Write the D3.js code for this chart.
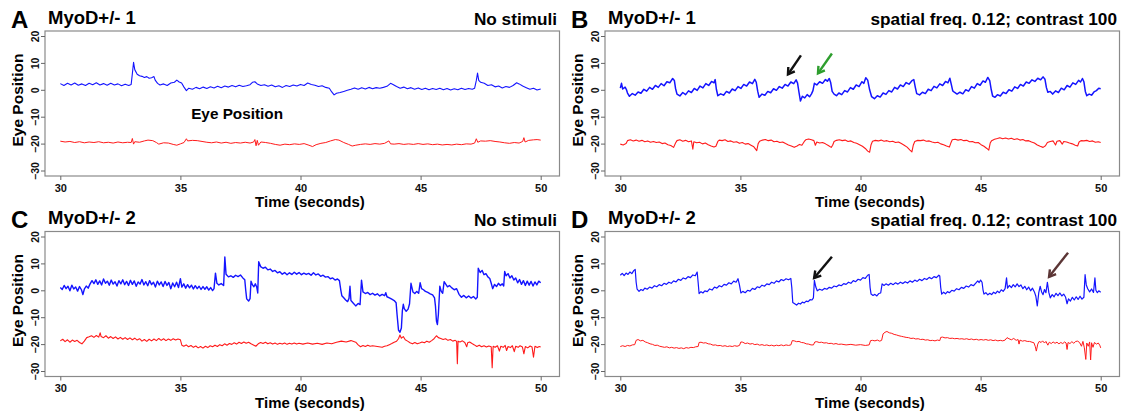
<!DOCTYPE html>
<html>
<head>
<meta charset="utf-8">
<script src="https://cdn.jsdelivr.net/npm/d3@7"></script>
<style>
  html, body { margin: 0; padding: 0; background: #fff; }
  text { font-family: Arial, "Liberation Sans", sans-serif; font-weight: bold; }
</style>
</head>
<body>
<script>
// tick labels
const xTicks = [30, 35, 40, 45, 50];
const yTicks = [20, 10, 0, -10, -20, -30];

const letters = ['A', 'B', 'C', 'D'];
const subjects = ['MyoD+/- 1', 'MyoD+/- 1', 'MyoD+/- 2', 'MyoD+/- 2'];
const conditions = ['No stimuli', 'spatial freq. 0.12; contrast 100', 'No stimuli', 'spatial freq. 0.12; contrast 100'];

// eye traces [time s, position]
const blueA = [[30,2.3],[30.15,1.6],[30.3,2.4],[30.45,1.8],[30.6,2.5],[30.75,1.7],[30.9,2.2],[31.05,1.6],[31.2,2.4],[31.35,1.9],[31.5,2.6],[31.65,1.8],[31.8,2.3],[31.95,1.7],[32.1,2.4],[32.25,1.8],[32.4,2.2],[32.55,1.5],[32.7,2.1],[32.85,1.6],[32.95,2.0],[33.0,6.0],[33.05,10.2],[33.1,7.5],[33.2,5.8],[33.3,5.2],[33.4,5.0],[33.5,4.6],[33.6,4.9],[33.7,4.3],[33.8,4.5],[33.9,4.9],[33.95,3.6],[34.05,2.4],[34.15,1.8],[34.3,2.2],[34.45,1.6],[34.6,2.5],[34.75,2.8],[34.85,3.6],[34.95,2.9],[35.05,2.5],[35.15,1.0],[35.25,-0.3],[35.35,0.6],[35.5,0.2],[35.65,0.9],[35.8,0.4],[35.95,1.0],[36.1,0.5],[36.25,1.1],[36.4,0.7],[36.55,1.3],[36.7,0.8],[36.85,1.4],[37.0,1.0],[37.15,1.6],[37.3,1.1],[37.45,1.7],[37.6,1.2],[37.75,1.5],[37.9,1.9],[38.0,2.8],[38.1,3.0],[38.2,2.2],[38.35,1.6],[38.5,1.9],[38.65,1.3],[38.8,1.8],[38.95,1.1],[39.1,1.5],[39.25,0.9],[39.4,1.6],[39.55,1.2],[39.7,1.8],[39.85,1.4],[40.0,2.0],[40.15,1.6],[40.3,2.5],[40.45,2.0],[40.6,1.7],[40.75,1.2],[40.9,1.5],[41.05,0.9],[41.2,0.6],[41.3,-0.8],[41.4,-1.9],[41.5,-1.3],[41.65,-1.0],[41.8,-0.6],[41.95,-0.2],[42.1,0.2],[42.25,0.7],[42.4,0.2],[42.55,0.8],[42.7,0.3],[42.85,0.9],[43.0,0.4],[43.15,0.8],[43.3,0.6],[43.45,0.9],[43.6,1.3],[43.75,2.4],[43.85,2.0],[44.0,1.2],[44.15,0.6],[44.3,1.0],[44.45,0.4],[44.6,0.8],[44.75,0.2],[44.9,0.7],[45.05,0.1],[45.2,0.6],[45.35,0.0],[45.5,0.5],[45.65,0.1],[45.8,0.6],[45.95,0.0],[46.1,0.5],[46.25,-0.1],[46.4,0.4],[46.55,0.0],[46.7,0.6],[46.85,0.1],[47.0,0.5],[47.15,0.2],[47.25,0.6],[47.32,3.5],[47.37,6.2],[47.42,3.5],[47.5,2.8],[47.65,2.4],[47.8,1.6],[47.95,1.9],[48.1,1.1],[48.25,1.4],[48.4,0.7],[48.55,1.2],[48.7,0.9],[48.85,1.6],[49.0,2.6],[49.1,2.2],[49.25,1.4],[49.4,0.8],[49.55,0.2],[49.7,0.6],[49.85,-0.1],[50.0,0.3]];
const redA = [[30,-19.1],[30.2,-19.4],[30.4,-19.2],[30.6,-19.6],[30.8,-19.3],[31.0,-19.7],[31.2,-19.4],[31.4,-19.6],[31.6,-19.3],[31.8,-19.7],[32.0,-19.5],[32.2,-19.8],[32.4,-19.4],[32.6,-19.7],[32.8,-19.5],[32.95,-19.6],[33.0,-18.1],[33.05,-20.2],[33.1,-19.3],[33.3,-19.5],[33.5,-19.0],[33.65,-18.7],[33.85,-18.9],[34.0,-19.6],[34.1,-20.2],[34.3,-19.7],[34.5,-19.8],[34.7,-20.3],[34.85,-20.6],[35.0,-20.1],[35.15,-19.6],[35.25,-18.2],[35.3,-19.0],[35.5,-18.8],[35.7,-18.9],[35.9,-19.2],[36.1,-19.5],[36.3,-19.7],[36.5,-19.4],[36.7,-19.8],[36.9,-19.5],[37.1,-19.9],[37.3,-19.6],[37.5,-19.8],[37.7,-19.5],[37.9,-19.8],[38.05,-19.4],[38.1,-18.5],[38.15,-20.8],[38.2,-18.8],[38.25,-20.6],[38.35,-19.4],[38.55,-19.6],[38.75,-19.9],[38.95,-20.3],[39.15,-20.6],[39.35,-20.2],[39.55,-20.4],[39.75,-20.1],[39.95,-20.3],[40.15,-20.0],[40.35,-20.6],[40.5,-21.1],[40.65,-20.4],[40.85,-19.9],[41.05,-19.6],[41.25,-19.0],[41.45,-18.5],[41.6,-18.7],[41.8,-19.6],[42.0,-20.3],[42.15,-20.9],[42.3,-20.6],[42.5,-20.3],[42.7,-20.1],[42.9,-20.3],[43.1,-20.0],[43.3,-20.2],[43.5,-19.9],[43.68,-19.0],[43.75,-20.1],[43.9,-20.2],[44.1,-20.0],[44.3,-20.3],[44.5,-20.1],[44.7,-20.3],[44.9,-20.0],[45.1,-20.3],[45.3,-20.1],[45.5,-20.4],[45.7,-20.2],[45.9,-20.5],[46.1,-20.3],[46.3,-20.5],[46.5,-20.2],[46.7,-20.4],[46.9,-20.1],[47.1,-20.2],[47.25,-19.8],[47.32,-18.2],[47.38,-19.5],[47.5,-19.0],[47.7,-19.1],[47.9,-18.9],[48.1,-19.2],[48.3,-19.4],[48.5,-19.7],[48.7,-19.9],[48.9,-19.6],[49.1,-19.8],[49.25,-19.2],[49.3,-17.8],[49.35,-19.4],[49.5,-18.8],[49.7,-18.6],[49.85,-18.5],[50.0,-18.7]];

const blueB = [[30.0,0.6],[30.05,2.4],[30.1,0.3],[30.2,1.0],[30.25,0.2],[30.3,-1.2],[30.38,-2.4],[30.5,-1.4],[30.62,-2.0],[30.74,-0.8],[30.86,-1.3],[30.98,0.2],[31.1,-0.5],[31.22,0.9],[31.34,0.2],[31.46,1.6],[31.58,0.9],[31.7,2.3],[31.82,1.5],[31.94,3.0],[32.06,2.6],[32.18,4.2],[32.25,3.5],[32.3,0.5],[32.36,-1.6],[32.48,-2.3],[32.6,-1.0],[32.72,-1.8],[32.84,-0.4],[32.96,-1.0],[33.08,0.5],[33.2,-0.2],[33.32,1.4],[33.44,0.7],[33.56,2.3],[33.68,1.6],[33.8,3.1],[33.9,2.6],[33.95,3.8],[34.0,0.2],[34.06,-2.2],[34.18,-1.5],[34.3,-2.0],[34.42,-0.6],[34.54,-1.2],[34.66,0.3],[34.78,-0.3],[34.9,1.2],[35.02,0.5],[35.14,2.0],[35.26,1.4],[35.38,2.9],[35.5,2.3],[35.6,3.9],[35.66,2.8],[35.72,-0.5],[35.78,-2.8],[35.9,-1.6],[36.02,-2.0],[36.14,-0.6],[36.26,-1.1],[36.38,0.4],[36.5,-0.2],[36.62,1.2],[36.74,0.6],[36.86,2.0],[36.98,1.4],[37.1,2.9],[37.22,2.3],[37.32,3.7],[37.38,2.5],[37.44,-1.0],[37.5,-4.2],[37.58,-2.4],[37.68,-3.0],[37.78,-1.8],[37.88,-2.6],[37.96,-1.5],[38.02,-0.3],[38.08,2.4],[38.18,1.8],[38.3,3.0],[38.42,2.4],[38.54,3.8],[38.62,3.2],[38.7,4.2],[38.76,2.6],[38.82,-0.6],[38.9,-1.6],[39.0,-2.2],[39.1,-1.2],[39.22,-1.8],[39.34,-0.3],[39.46,-0.8],[39.58,0.8],[39.7,0.2],[39.82,1.8],[39.94,1.2],[40.06,3.0],[40.14,2.4],[40.22,4.5],[40.3,3.6],[40.38,0.0],[40.46,-2.5],[40.58,-3.3],[40.7,-2.2],[40.82,-2.7],[40.94,-1.2],[41.06,-1.7],[41.18,-0.3],[41.3,-0.8],[41.42,0.9],[41.54,0.3],[41.66,1.8],[41.78,1.2],[41.9,2.7],[42.02,2.1],[42.14,3.4],[42.22,3.8],[42.28,1.0],[42.34,-1.4],[42.46,-1.9],[42.58,-0.9],[42.7,-1.4],[42.82,0.2],[42.94,-0.3],[43.06,1.3],[43.18,0.7],[43.3,2.2],[43.42,1.6],[43.54,3.1],[43.64,2.6],[43.72,4.3],[43.78,2.0],[43.84,-0.4],[43.92,-1.0],[44.02,-1.6],[44.14,-0.9],[44.26,-1.5],[44.38,0.0],[44.5,-0.5],[44.62,1.2],[44.74,0.6],[44.86,2.3],[44.98,1.7],[45.1,3.3],[45.2,2.8],[45.3,4.6],[45.38,3.4],[45.44,0.2],[45.5,-2.3],[45.6,-2.8],[45.7,-1.8],[45.82,-2.3],[45.94,-0.9],[46.06,-1.4],[46.18,0.0],[46.3,-0.5],[46.42,1.1],[46.54,0.5],[46.66,2.0],[46.78,1.4],[46.9,2.9],[47.02,2.4],[47.14,3.7],[47.26,3.1],[47.38,4.3],[47.5,3.7],[47.6,4.8],[47.68,3.9],[47.74,0.8],[47.8,-0.9],[47.9,-0.6],[48.0,-1.6],[48.12,-0.4],[48.24,-1.0],[48.36,0.6],[48.48,0.0],[48.6,1.6],[48.72,1.0],[48.84,2.6],[48.96,2.0],[49.08,3.5],[49.16,2.9],[49.24,4.2],[49.3,3.0],[49.36,-0.6],[49.42,-2.2],[49.52,-1.6],[49.62,-2.0],[49.72,-0.8],[49.82,-0.3],[49.92,0.6],[50.0,0.4]];
const redB = [[30.0,-20.2],[30.12,-20.5],[30.24,-20.0],[30.3,-18.9],[30.42,-18.6],[30.54,-19.0],[30.66,-18.7],[30.78,-19.1],[30.9,-18.8],[31.02,-19.3],[31.14,-19.0],[31.26,-19.5],[31.38,-19.2],[31.5,-19.6],[31.62,-19.4],[31.74,-20.0],[31.86,-19.8],[31.98,-20.4],[32.1,-20.7],[32.22,-21.4],[32.3,-19.8],[32.36,-18.9],[32.48,-18.6],[32.6,-19.1],[32.72,-18.8],[32.84,-19.3],[32.96,-19.0],[33.02,-22.1],[33.06,-19.3],[33.18,-19.7],[33.3,-19.5],[33.42,-20.1],[33.54,-19.8],[33.66,-20.4],[33.78,-20.9],[33.9,-21.3],[33.98,-21.0],[34.06,-19.2],[34.12,-18.7],[34.24,-18.9],[34.36,-18.6],[34.48,-19.2],[34.6,-19.0],[34.72,-19.5],[34.84,-19.3],[34.96,-19.9],[35.08,-19.6],[35.2,-20.2],[35.32,-20.0],[35.44,-20.6],[35.56,-21.2],[35.68,-22.6],[35.74,-20.0],[35.8,-19.1],[35.92,-18.7],[36.04,-18.5],[36.16,-18.9],[36.28,-18.7],[36.4,-19.3],[36.52,-19.1],[36.64,-19.6],[36.76,-19.4],[36.88,-20.0],[37.0,-20.5],[37.12,-20.9],[37.24,-21.4],[37.36,-20.9],[37.46,-20.3],[37.56,-20.6],[37.66,-19.2],[37.72,-18.6],[37.84,-18.3],[37.96,-18.6],[38.06,-18.9],[38.12,-20.6],[38.18,-19.4],[38.3,-19.8],[38.42,-19.6],[38.54,-20.1],[38.66,-20.7],[38.78,-21.4],[38.84,-20.6],[38.9,-19.2],[39.0,-18.8],[39.12,-18.6],[39.24,-18.9],[39.36,-18.7],[39.48,-19.2],[39.6,-19.0],[39.72,-19.6],[39.84,-19.9],[39.96,-20.4],[40.08,-21.0],[40.2,-21.8],[40.3,-22.8],[40.38,-23.2],[40.44,-20.4],[40.5,-19.1],[40.62,-18.8],[40.74,-19.0],[40.86,-18.7],[40.98,-19.1],[41.1,-18.9],[41.22,-19.3],[41.34,-19.1],[41.46,-19.6],[41.58,-19.4],[41.7,-20.0],[41.82,-20.6],[41.94,-21.3],[42.06,-22.4],[42.14,-23.1],[42.2,-20.5],[42.26,-19.2],[42.38,-18.8],[42.5,-18.9],[42.62,-18.7],[42.74,-19.1],[42.86,-19.0],[42.98,-19.4],[43.1,-19.7],[43.22,-19.5],[43.34,-20.1],[43.46,-20.4],[43.58,-20.9],[43.7,-21.3],[43.76,-19.8],[43.82,-18.6],[43.94,-18.4],[44.06,-18.7],[44.18,-18.5],[44.3,-18.9],[44.42,-18.8],[44.54,-19.3],[44.66,-19.2],[44.78,-19.7],[44.9,-19.6],[45.02,-20.4],[45.14,-21.0],[45.26,-21.8],[45.34,-22.4],[45.4,-19.8],[45.46,-18.9],[45.58,-18.4],[45.7,-18.1],[45.8,-17.8],[45.92,-18.2],[46.04,-17.9],[46.16,-18.3],[46.28,-18.0],[46.4,-18.5],[46.52,-18.2],[46.64,-18.7],[46.76,-18.5],[46.88,-19.0],[47.0,-18.9],[47.12,-19.4],[47.24,-19.8],[47.36,-20.5],[47.48,-21.0],[47.6,-21.4],[47.7,-20.8],[47.78,-19.6],[47.9,-19.2],[48.02,-19.0],[48.12,-20.5],[48.18,-19.1],[48.3,-18.9],[48.4,-20.2],[48.46,-19.2],[48.58,-19.4],[48.7,-19.8],[48.82,-20.1],[48.94,-20.6],[49.04,-20.9],[49.1,-19.4],[49.18,-18.9],[49.3,-19.0],[49.42,-18.8],[49.54,-19.2],[49.66,-19.0],[49.78,-19.5],[49.9,-19.3],[50.0,-19.6]];

const blueC = [[30.0,1.0],[30.08,0.3],[30.16,1.8],[30.24,0.6],[30.32,1.5],[30.4,-0.2],[30.48,1.9],[30.56,0.5],[30.64,1.2],[30.72,-0.3],[30.8,1.4],[30.88,0.2],[30.94,-1.6],[31.0,0.4],[31.08,1.6],[31.16,0.8],[31.24,2.4],[31.32,3.6],[31.4,2.5],[31.48,3.9],[31.56,2.2],[31.64,3.5],[31.72,2.0],[31.8,4.2],[31.88,2.6],[31.96,3.4],[32.04,1.9],[32.12,3.8],[32.2,2.3],[32.28,3.2],[32.36,1.6],[32.44,3.6],[32.52,2.4],[32.6,3.9],[32.68,2.1],[32.76,3.3],[32.84,1.8],[32.92,3.7],[33.0,2.2],[33.08,3.5],[33.16,1.5],[33.24,3.1],[33.32,2.3],[33.4,4.0],[33.48,2.0],[33.56,3.2],[33.64,1.7],[33.72,3.6],[33.8,2.1],[33.88,3.0],[33.96,1.2],[34.04,3.4],[34.12,2.0],[34.2,3.1],[34.28,1.4],[34.36,3.3],[34.44,1.8],[34.52,2.9],[34.6,0.6],[34.68,2.7],[34.76,1.3],[34.84,3.0],[34.92,1.0],[35.0,4.3],[35.06,1.2],[35.14,2.4],[35.22,0.8],[35.3,2.1],[35.38,0.9],[35.46,1.9],[35.54,0.5],[35.62,1.7],[35.7,0.6],[35.78,1.5],[35.86,0.3],[35.94,1.4],[36.02,0.4],[36.1,1.3],[36.18,0.1],[36.26,1.0],[36.34,-0.1],[36.4,0.6],[36.46,6.4],[36.52,2.6],[36.6,2.0],[36.7,2.5],[36.8,1.8],[36.85,12.4],[36.9,6.0],[37.0,5.0],[37.1,5.4],[37.2,4.8],[37.3,5.6],[37.4,5.1],[37.5,5.7],[37.6,4.6],[37.68,3.9],[37.72,0.0],[37.76,-3.2],[37.84,-4.0],[37.9,-3.1],[37.94,3.4],[38.0,2.0],[38.06,1.3],[38.12,2.4],[38.18,1.1],[38.22,-1.0],[38.26,10.6],[38.34,8.8],[38.44,8.2],[38.54,8.6],[38.64,7.6],[38.74,7.9],[38.84,7.0],[38.94,7.4],[39.04,6.5],[39.14,6.9],[39.24,6.0],[39.34,6.6],[39.44,5.8],[39.54,6.5],[39.64,5.9],[39.74,6.7],[39.84,6.0],[39.94,6.6],[40.04,5.8],[40.14,6.4],[40.24,5.9],[40.34,6.3],[40.44,5.6],[40.54,6.5],[40.64,5.7],[40.74,6.1],[40.84,5.2],[40.94,5.6],[41.04,4.9],[41.14,5.1],[41.24,4.3],[41.34,4.6],[41.44,3.8],[41.54,4.2],[41.62,3.6],[41.68,0.0],[41.72,-2.0],[41.8,-2.8],[41.88,-3.6],[41.96,-4.2],[42.02,-3.0],[42.06,1.5],[42.1,-3.8],[42.2,-4.8],[42.3,-5.8],[42.4,-4.9],[42.48,-5.3],[42.54,3.8],[42.6,-0.6],[42.7,-1.2],[42.8,-0.8],[42.9,-1.6],[43.0,-1.1],[43.1,-1.8],[43.2,-1.3],[43.3,-2.1],[43.4,-1.5],[43.5,-2.0],[43.55,-0.9],[43.6,-2.4],[43.7,-2.8],[43.8,-3.3],[43.9,-3.8],[43.98,-4.6],[44.02,-9.0],[44.08,-14.8],[44.14,-15.6],[44.2,-14.0],[44.24,-7.6],[44.28,-5.2],[44.32,-6.8],[44.4,-7.8],[44.48,-7.0],[44.54,-5.0],[44.6,2.6],[44.68,-0.6],[44.76,-1.2],[44.84,-0.4],[44.92,-1.1],[44.98,2.8],[45.04,0.6],[45.12,0.2],[45.2,-0.4],[45.3,-0.8],[45.4,-1.3],[45.5,-1.7],[45.58,-2.8],[45.62,-6.0],[45.66,-11.4],[45.7,-12.7],[45.74,-9.0],[45.78,-2.0],[45.8,1.5],[45.86,-0.4],[45.92,-1.1],[45.98,3.2],[46.04,2.4],[46.12,1.3],[46.2,1.8],[46.3,0.9],[46.4,0.2],[46.5,0.6],[46.6,-1.5],[46.7,-2.6],[46.8,-1.9],[46.9,-2.8],[47.0,-2.1],[47.1,-2.9],[47.2,-2.3],[47.3,-3.2],[47.36,-2.6],[47.4,8.2],[47.48,6.6],[47.56,7.4],[47.64,5.8],[47.72,6.2],[47.8,5.0],[47.88,4.4],[47.94,2.6],[48.0,0.6],[48.08,2.2],[48.16,1.4],[48.24,2.6],[48.32,1.8],[48.4,2.4],[48.46,1.6],[48.5,7.0],[48.56,5.4],[48.64,6.2],[48.72,4.6],[48.8,5.4],[48.88,3.8],[48.96,4.6],[49.04,2.8],[49.12,4.0],[49.2,2.2],[49.28,3.6],[49.36,1.8],[49.44,3.4],[49.52,1.9],[49.6,3.3],[49.68,1.6],[49.76,3.1],[49.84,2.0],[49.92,3.4],[50.0,2.8]];
const redC = [[30.0,-18.8],[30.1,-18.2],[30.2,-19.1],[30.3,-18.4],[30.4,-19.3],[30.5,-18.5],[30.6,-19.0],[30.7,-18.6],[30.8,-19.4],[30.9,-19.9],[31.0,-18.9],[31.1,-17.6],[31.2,-17.3],[31.3,-16.9],[31.4,-17.5],[31.5,-16.8],[31.6,-17.4],[31.66,-15.8],[31.7,-17.2],[31.8,-17.6],[31.9,-16.9],[32.0,-17.8],[32.1,-17.2],[32.2,-17.9],[32.3,-17.3],[32.4,-18.1],[32.5,-17.5],[32.6,-18.2],[32.7,-17.6],[32.8,-18.3],[32.9,-17.7],[33.0,-18.4],[33.1,-17.8],[33.2,-18.5],[33.3,-18.0],[33.4,-18.9],[33.5,-18.3],[33.6,-19.0],[33.7,-18.2],[33.8,-18.8],[33.9,-18.1],[34.0,-18.7],[34.1,-17.9],[34.2,-18.6],[34.3,-18.0],[34.4,-18.7],[34.5,-18.1],[34.6,-18.6],[34.7,-18.0],[34.8,-18.5],[34.9,-18.1],[35.0,-18.4],[35.06,-20.4],[35.14,-20.8],[35.24,-20.3],[35.34,-21.0],[35.44,-20.5],[35.54,-21.2],[35.64,-20.7],[35.74,-21.4],[35.84,-20.9],[35.94,-21.5],[36.04,-20.8],[36.14,-21.3],[36.24,-20.6],[36.34,-21.0],[36.44,-20.4],[36.54,-20.9],[36.64,-20.2],[36.74,-20.6],[36.84,-19.9],[36.94,-20.4],[37.04,-19.8],[37.14,-20.1],[37.24,-19.5],[37.34,-20.0],[37.44,-19.3],[37.54,-19.8],[37.64,-19.2],[37.74,-19.7],[37.84,-19.3],[37.94,-19.9],[38.04,-20.3],[38.14,-20.8],[38.24,-19.9],[38.34,-19.4],[38.44,-19.8],[38.54,-19.3],[38.64,-19.9],[38.74,-19.5],[38.84,-20.0],[38.94,-19.6],[39.04,-20.1],[39.14,-19.7],[39.24,-20.0],[39.34,-19.6],[39.44,-20.1],[39.54,-19.7],[39.64,-20.0],[39.74,-19.6],[39.84,-20.0],[39.94,-19.7],[40.1,-20.0],[40.3,-19.6],[40.5,-20.0],[40.7,-19.7],[40.9,-20.1],[41.1,-19.6],[41.3,-19.9],[41.5,-19.3],[41.7,-18.9],[41.9,-19.2],[42.1,-18.7],[42.3,-19.3],[42.4,-20.3],[42.5,-21.0],[42.6,-20.5],[42.7,-20.9],[42.8,-20.4],[42.9,-20.8],[43.0,-20.6],[43.2,-20.9],[43.4,-21.2],[43.5,-20.8],[43.6,-20.6],[43.7,-20.2],[43.8,-19.8],[43.9,-19.3],[44.0,-18.9],[44.08,-18.0],[44.14,-16.6],[44.2,-17.8],[44.28,-17.2],[44.36,-18.4],[44.46,-18.9],[44.56,-19.5],[44.66,-19.9],[44.76,-19.4],[44.86,-19.9],[44.96,-19.6],[45.06,-19.2],[45.16,-19.5],[45.26,-18.9],[45.36,-19.3],[45.46,-18.7],[45.56,-18.0],[45.66,-16.9],[45.74,-17.6],[45.84,-17.9],[45.94,-18.3],[46.04,-18.0],[46.14,-18.6],[46.24,-18.3],[46.34,-18.9],[46.44,-18.6],[46.5,-19.0],[46.53,-27.3],[46.56,-18.9],[46.64,-19.2],[46.74,-18.8],[46.84,-19.4],[46.92,-21.0],[46.96,-19.5],[47.04,-19.2],[47.14,-19.8],[47.24,-20.3],[47.34,-20.9],[47.44,-20.4],[47.54,-21.0],[47.64,-20.6],[47.74,-21.1],[47.84,-20.7],[47.94,-21.0],[47.98,-28.8],[48.02,-20.8],[48.1,-21.2],[48.2,-20.6],[48.28,-22.6],[48.34,-20.8],[48.44,-21.2],[48.52,-20.5],[48.58,-22.4],[48.64,-20.9],[48.74,-21.3],[48.82,-20.6],[48.9,-22.8],[48.96,-20.8],[49.06,-21.2],[49.14,-20.6],[49.24,-21.1],[49.3,-23.6],[49.36,-20.9],[49.46,-21.4],[49.56,-20.7],[49.64,-21.1],[49.7,-24.9],[49.76,-20.8],[49.86,-21.3],[49.94,-20.9],[50.0,-21.1]];

const blueD = [[30.0,5.6],[30.08,6.3],[30.16,5.5],[30.24,6.4],[30.32,5.9],[30.4,6.8],[30.48,6.2],[30.56,7.3],[30.62,7.8],[30.66,3.0],[30.7,0.4],[30.78,-0.4],[30.86,0.3],[30.94,-0.1],[31.02,0.8],[31.12,0.4],[31.22,1.2],[31.32,0.8],[31.42,1.7],[31.52,1.3],[31.62,2.1],[31.72,1.7],[31.82,2.6],[31.92,2.2],[32.02,3.0],[32.12,2.6],[32.22,3.5],[32.32,3.1],[32.42,4.1],[32.52,3.7],[32.62,4.6],[32.72,4.2],[32.82,5.1],[32.92,4.7],[33.02,5.7],[33.12,5.4],[33.2,6.8],[33.24,3.0],[33.28,-1.2],[33.36,-0.5],[33.44,-1.0],[33.52,-0.2],[33.62,-0.5],[33.72,0.5],[33.82,0.1],[33.92,1.2],[34.02,0.8],[34.12,1.7],[34.22,1.3],[34.32,2.2],[34.42,1.9],[34.52,2.8],[34.62,2.4],[34.72,3.4],[34.82,3.0],[34.9,4.3],[34.96,2.0],[35.02,-1.0],[35.1,-0.4],[35.2,-0.9],[35.3,0.0],[35.4,-0.3],[35.5,0.7],[35.6,0.3],[35.7,1.3],[35.8,1.0],[35.9,1.9],[36.0,1.5],[36.1,2.4],[36.2,2.1],[36.3,3.0],[36.4,2.6],[36.5,3.5],[36.6,3.1],[36.7,4.0],[36.8,3.6],[36.9,4.3],[37.0,3.9],[37.1,4.4],[37.14,1.0],[37.18,-4.5],[37.26,-5.0],[37.34,-5.5],[37.42,-4.8],[37.5,-5.1],[37.58,-4.4],[37.66,-4.7],[37.74,-4.0],[37.82,-4.2],[37.9,-3.5],[37.98,-3.6],[38.04,-2.8],[38.08,3.7],[38.14,1.2],[38.2,-0.2],[38.3,0.4],[38.4,0.0],[38.5,0.7],[38.6,0.4],[38.7,1.1],[38.8,0.8],[38.9,1.6],[39.0,1.3],[39.1,2.0],[39.2,1.7],[39.3,2.5],[39.4,2.2],[39.5,3.0],[39.6,2.6],[39.7,3.6],[39.8,3.2],[39.9,4.1],[40.0,3.8],[40.1,4.7],[40.2,4.4],[40.3,5.6],[40.36,5.9],[40.4,1.0],[40.44,-1.4],[40.52,-1.9],[40.6,-1.5],[40.68,-2.1],[40.76,-1.2],[40.84,-1.0],[40.9,2.4],[40.98,1.8],[41.06,2.4],[41.16,1.9],[41.26,2.6],[41.36,2.1],[41.46,2.8],[41.56,2.3],[41.66,3.0],[41.76,2.5],[41.86,3.2],[41.96,2.7],[42.06,3.5],[42.16,3.0],[42.26,3.8],[42.36,3.3],[42.46,4.1],[42.56,3.6],[42.66,4.4],[42.76,4.0],[42.86,4.8],[42.96,4.3],[43.06,5.1],[43.16,4.7],[43.26,5.6],[43.3,5.3],[43.34,1.0],[43.38,-1.4],[43.46,-0.7],[43.54,-1.3],[43.62,-0.5],[43.7,-0.9],[43.8,0.0],[43.9,-0.3],[44.0,0.6],[44.1,0.2],[44.2,1.1],[44.3,0.7],[44.4,1.6],[44.5,1.2],[44.6,2.1],[44.7,1.7],[44.8,2.7],[44.88,3.5],[44.94,2.9],[45.0,3.8],[45.06,3.0],[45.1,0.2],[45.14,-1.4],[45.22,-0.9],[45.3,-1.7],[45.38,-1.1],[45.46,-1.6],[45.54,-0.7],[45.62,-1.2],[45.7,-0.3],[45.78,-0.9],[45.86,0.2],[45.94,-0.4],[46.02,0.6],[46.08,4.6],[46.12,0.8],[46.2,1.8],[46.28,1.0],[46.36,2.1],[46.44,1.3],[46.52,2.4],[46.6,1.4],[46.68,2.0],[46.76,0.6],[46.84,1.5],[46.92,0.2],[47.0,1.2],[47.08,-0.2],[47.16,0.8],[47.24,-0.6],[47.3,-2.2],[47.36,-5.8],[47.42,-1.0],[47.48,1.5],[47.54,-0.6],[47.6,-1.6],[47.66,0.3],[47.72,-0.9],[47.78,3.0],[47.84,-0.8],[47.9,-2.8],[47.98,-1.6],[48.06,-2.4],[48.14,-1.1],[48.22,-2.0],[48.3,-1.0],[48.38,-2.1],[48.46,-1.4],[48.54,-2.6],[48.6,-5.0],[48.66,-3.2],[48.74,-4.0],[48.82,-2.6],[48.9,-3.6],[48.98,-2.4],[49.06,-3.4],[49.14,-2.2],[49.22,-3.3],[49.3,-2.6],[49.35,5.8],[49.4,2.0],[49.46,0.6],[49.54,-0.6],[49.62,0.5],[49.7,-0.8],[49.76,4.6],[49.8,0.0],[49.86,-0.9],[49.92,-0.2],[50.0,-0.7]];
const redD = [[30.0,-20.9],[30.1,-20.6],[30.2,-20.9],[30.3,-20.5],[30.4,-20.7],[30.5,-20.3],[30.6,-20.2],[30.66,-18.6],[30.74,-18.3],[30.84,-18.8],[30.94,-18.6],[31.04,-19.2],[31.14,-19.5],[31.24,-19.9],[31.34,-20.1],[31.44,-20.5],[31.54,-20.4],[31.64,-20.8],[31.74,-21.0],[31.84,-21.2],[31.94,-21.0],[32.04,-21.4],[32.14,-21.2],[32.24,-21.5],[32.34,-21.3],[32.44,-21.6],[32.54,-21.4],[32.64,-21.7],[32.74,-21.3],[32.84,-21.5],[32.94,-21.2],[33.04,-21.3],[33.14,-21.0],[33.24,-20.9],[33.28,-19.4],[33.36,-19.3],[33.46,-19.6],[33.56,-19.5],[33.66,-19.9],[33.76,-20.0],[33.86,-20.4],[33.96,-20.3],[34.06,-20.6],[34.16,-20.5],[34.26,-20.8],[34.36,-20.6],[34.46,-20.9],[34.56,-20.7],[34.66,-20.9],[34.76,-20.6],[34.86,-20.8],[34.96,-20.5],[35.02,-19.2],[35.1,-19.3],[35.2,-19.8],[35.3,-19.6],[35.4,-20.0],[35.5,-19.8],[35.6,-20.2],[35.7,-20.0],[35.8,-20.4],[35.9,-20.2],[36.0,-20.5],[36.1,-20.3],[36.2,-20.6],[36.3,-20.4],[36.4,-20.7],[36.5,-20.4],[36.6,-20.6],[36.7,-20.3],[36.8,-20.6],[36.9,-20.3],[37.0,-20.5],[37.1,-20.3],[37.16,-18.7],[37.24,-18.8],[37.34,-19.1],[37.44,-19.0],[37.54,-19.4],[37.64,-19.5],[37.74,-19.9],[37.84,-20.0],[37.94,-20.3],[38.04,-20.3],[38.1,-19.2],[38.18,-19.1],[38.28,-19.4],[38.38,-19.3],[38.48,-19.6],[38.58,-19.5],[38.68,-19.8],[38.78,-19.7],[38.88,-20.0],[38.98,-19.8],[39.08,-20.1],[39.2,-20.0],[39.4,-20.3],[39.6,-20.1],[39.8,-20.4],[40.0,-20.2],[40.2,-20.5],[40.36,-20.3],[40.42,-18.7],[40.5,-18.6],[40.6,-18.8],[40.7,-18.5],[40.8,-18.9],[40.88,-18.6],[40.94,-16.2],[41.02,-15.6],[41.1,-15.3],[41.2,-15.8],[41.3,-16.0],[41.4,-16.4],[41.5,-16.6],[41.6,-16.9],[41.7,-17.1],[41.8,-17.3],[41.9,-17.5],[42.0,-17.6],[42.1,-17.9],[42.2,-17.8],[42.3,-18.1],[42.4,-18.0],[42.5,-18.3],[42.6,-18.2],[42.7,-18.5],[42.8,-18.4],[42.9,-18.7],[43.0,-18.6],[43.1,-18.8],[43.2,-18.5],[43.3,-18.7],[43.34,-17.5],[43.42,-17.4],[43.52,-17.7],[43.62,-17.6],[43.72,-17.9],[43.82,-17.8],[43.92,-18.0],[44.02,-17.9],[44.12,-18.1],[44.22,-18.0],[44.32,-18.2],[44.42,-18.0],[44.52,-18.3],[44.62,-18.1],[44.72,-18.4],[44.82,-18.2],[44.92,-18.5],[45.02,-18.3],[45.12,-18.5],[45.22,-18.3],[45.32,-18.6],[45.42,-18.4],[45.52,-18.7],[45.62,-18.5],[45.72,-18.8],[45.82,-18.6],[45.92,-18.8],[46.02,-18.5],[46.1,-17.6],[46.18,-18.0],[46.28,-18.4],[46.38,-17.9],[46.48,-18.6],[46.56,-18.3],[46.6,-20.0],[46.64,-18.5],[46.74,-18.9],[46.84,-18.7],[46.94,-19.0],[47.04,-19.0],[47.14,-19.3],[47.22,-19.5],[47.28,-21.0],[47.32,-22.6],[47.38,-20.0],[47.44,-19.0],[47.52,-19.4],[47.58,-18.8],[47.66,-19.6],[47.72,-19.0],[47.8,-20.4],[47.86,-19.3],[47.94,-19.8],[48.02,-19.2],[48.1,-19.7],[48.18,-19.3],[48.26,-19.9],[48.34,-19.4],[48.42,-19.8],[48.5,-19.2],[48.56,-19.6],[48.6,-22.0],[48.64,-19.4],[48.72,-19.8],[48.8,-19.1],[48.88,-19.7],[48.96,-19.0],[49.04,-18.9],[49.12,-19.4],[49.2,-20.8],[49.26,-19.0],[49.32,-21.4],[49.38,-25.7],[49.42,-19.6],[49.48,-20.8],[49.54,-19.2],[49.58,-25.9],[49.62,-19.5],[49.68,-21.2],[49.74,-19.4],[49.82,-20.0],[49.9,-19.6],[49.96,-20.4],[50.0,-21.4]];

// arrows in data units: panel, tail [t, v], head [t, v], colour
const arrows = [
  {panel: 1, from: [37.52, 12.8], to: [36.98, 5.7], color: '#111'},
  {panel: 1, from: [38.81, 13.5], to: [38.23, 6.1], color: '#2e9e2e'},
  {panel: 3, from: [38.81, 12.5], to: [38.07, 4.6], color: '#111'},
  {panel: 3, from: [48.64, 14.0], to: [47.85, 5.0], color: '#5b3535'}
];

const blues = [blueA, blueB, blueC, blueD];
const reds = [redA, redB, redC, redD];
// noisier recordings look thicker
const blueWidth = [1.1, 1.5, 1.4, 1.2];
const redWidth = [1.0, 1.1, 1.1, 1.0];

const svg = d3.select('body').append('svg').attr('width', 1122).attr('height', 418);

for (let i = 0; i < 4; i++) {
  let ox = (i % 2) * 560;
  let oy = i < 2 ? 0 : 200.5;
  const g = svg.append('g').attr('transform', `translate(${ox},${oy})`);

  const x = d3.scaleLinear().domain([30, 50]).range([60.3, 540.7]);
  const y = d3.scaleLinear().domain([-30, 20]).range([170.5, 36]);

  // frame
  g.append('rect')
    .attr('x', 45).attr('y', 31)
    .attr('width', 514.5).attr('height', 145)
    .attr('fill', 'none')
    .attr('stroke', '#8a8a8a')
    .attr('stroke-width', 1.2);

  const line = d3.line().x(d => x(d[0])).y(d => y(d[1]));

  g.append('path').datum(reds[i])
    .attr('d', line)
    .attr('fill', 'none')
    .attr('stroke', '#ff1a1a')
    .attr('stroke-width', redWidth[i])
    .attr('stroke-linejoin', 'round');
  g.append('path').datum(blues[i])
    .attr('d', line)
    .attr('fill', 'none')
    .attr('stroke', '#1414ff')
    .attr('stroke-width', blueWidth[i])
    .attr('stroke-linejoin', 'round');

  // y axis, labels turned like R does
  const ya = g.append('g').attr('transform', 'translate(45,0)')
    .call(d3.axisLeft(y).tickValues(yTicks).tickSize(4));
  ya.select('.domain').remove();
  ya.selectAll('line').attr('stroke', '#666');
  ya.selectAll('text')
    .attr('transform', 'rotate(-90)')
    .attr('x', 0).attr('y', -6.5).attr('dy', 0)
    .attr('text-anchor', 'middle')
    .style('font-size', '10.5px')
    .attr('fill', '#111');

  const xa = g.append('g').attr('transform', 'translate(0,176)')
    .call(d3.axisBottom(x).tickValues(xTicks).tickSize(4).tickPadding(4));
  xa.select('.domain').remove();
  xa.selectAll('line').attr('stroke', '#666');
  xa.selectAll('text').style('font-size', '11px').attr('fill', '#111');

  // titles
  g.append('text').attr('x', 11).attr('y', 27.5)
    .style('font-size', '24px').text(letters[i]);
  g.append('text').attr('x', 48).attr('y', 23.5)
    .style('font-size', '18.5px').text(subjects[i]);
  g.append('text').attr('x', 557).attr('y', 25)
    .attr('text-anchor', 'end')
    .style('font-size', '17.2px').text(conditions[i]);

  g.append('text').attr('x', 310).attr('y', 207)
    .attr('text-anchor', 'middle')
    .style('font-size', '15px').text('Time (seconds)');
  g.append('text')
    .attr('transform', 'translate(23,100) rotate(-90)')
    .attr('text-anchor', 'middle')
    .style('font-size', '15.5px').text('Eye Position');

  if (i === 0) {
    g.append('text').attr('x', x(37.36)).attr('y', y(-11))
      .attr('text-anchor', 'middle')
      .style('font-size', '15.3px').text('Eye Position');
  }

  arrows.filter(a => a.panel === i).forEach(a => {
    let x1 = x(a.from[0]), y1 = y(a.from[1]);
    let x2 = x(a.to[0]), y2 = y(a.to[1]);
    let ang = Math.atan2(y2 - y1, x2 - x1);
    let hl = 7.5;
    g.append('line')
      .attr('x1', x1).attr('y1', y1).attr('x2', x2).attr('y2', y2)
      .attr('stroke', a.color).attr('stroke-width', 2.4);
    g.append('path')
      .attr('d', `M${x2 + hl * Math.cos(ang + Math.PI - 0.55)},${y2 + hl * Math.sin(ang + Math.PI - 0.55)}L${x2},${y2}L${x2 + hl * Math.cos(ang + Math.PI + 0.55)},${y2 + hl * Math.sin(ang + Math.PI + 0.55)}`)
      .attr('fill', 'none')
      .attr('stroke', a.color).attr('stroke-width', 2.4)
      .attr('stroke-linejoin', 'miter');
  });
}
</script>
</body>
</html>
